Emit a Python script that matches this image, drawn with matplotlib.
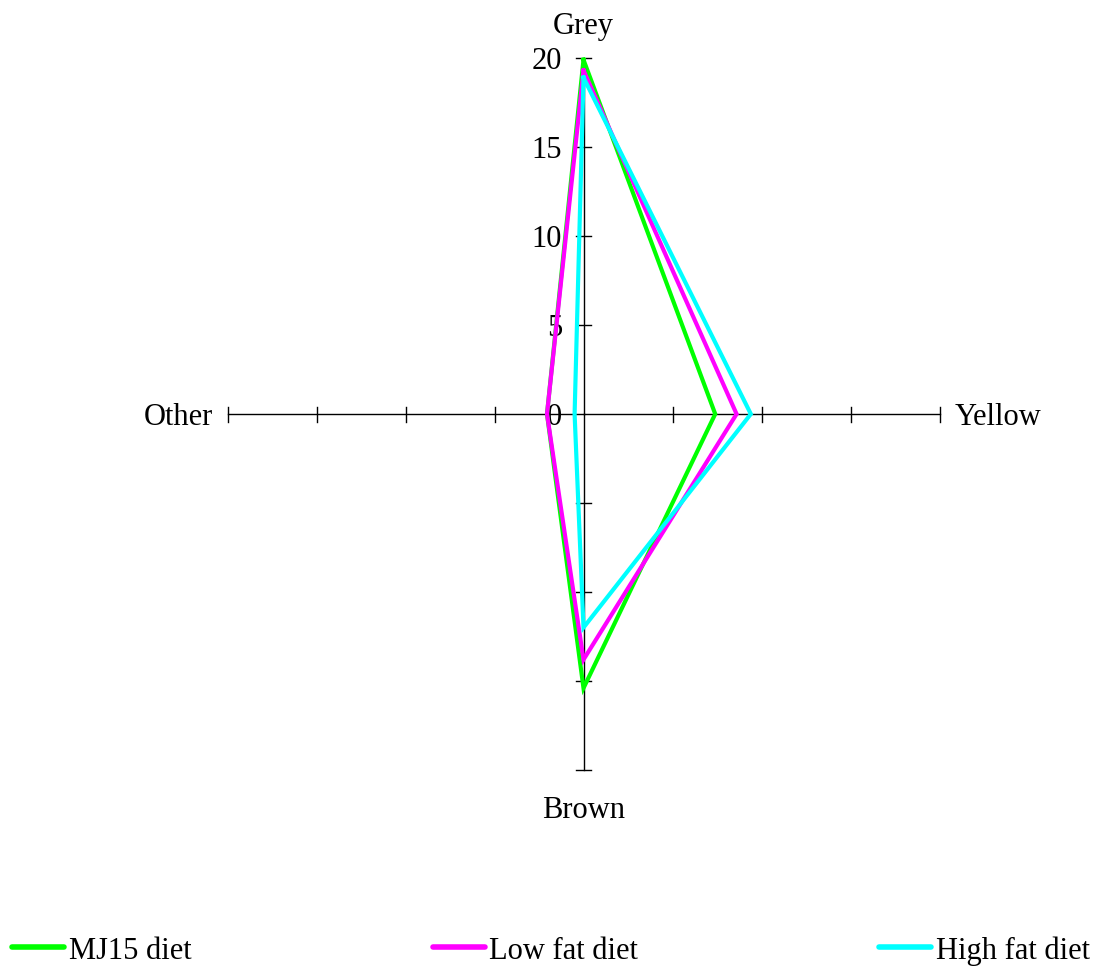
import matplotlib
matplotlib.use("Agg")
import matplotlib.pyplot as plt
from matplotlib.lines import Line2D

plt.rcParams['font.family'] = ['Liberation Serif', 'DejaVu Serif']

# Radar spokes, clockwise from the top
categories = ["Grey", "Yellow", "Brown", "Other"]
series_names = ["MJ15 diet", "Low fat diet", "High fat diet"]
mj15 = [19.9, 7.4, 15.4, 2.05]
low_fat = [19.3, 8.6, 13.8, 2.05]
high_fat = [18.9, 9.4, 12.0, 0.5]
colors = ["#00FF00", "#FF00FF", "#00FFFF"]
ticks = [0, 5, 10, 15, 20]
r_max = 20

# unit direction of each spoke
directions = [(0, 1), (1, 0), (0, -1), (-1, 0)]

FS = 22
W, H, DPI = 1099, 970, 100
fig = plt.figure(figsize=(W / DPI, H / DPI), dpi=DPI)
ax = fig.add_axes([0, 0, 1, 1])
scale = 17.8  # pixels per unit
cx, cy = 583.5, 415
ax.set_xlim(-cx / scale, (W - cx) / scale)
ax.set_ylim(-(H - cy) / scale, cy / scale)
ax.axis("off")

# spokes and tick marks
half = 7.5 / scale
for dx, dy in directions:
    ax.plot([0, dx * r_max], [0, dy * r_max], color="black", lw=1, zorder=1)
    for t in ticks[1:]:
        px, py = dx * t, dy * t
        if dx == 0:
            ax.plot([px - half, px + half], [py, py], color="black", lw=1, zorder=1)
        else:
            ax.plot([px, px], [py - half, py + half], color="black", lw=1, zorder=1)

# value labels along the Grey spoke
dy_txt = -0.15
for t in ticks:
    ax.text(-1.2, t + dy_txt, str(t), ha="right", va="center", fontsize=FS)

# spoke labels
ax.text(0, 21.85, categories[0], ha="center", va="center", fontsize=FS)
ax.text(20.85, dy_txt, categories[1], ha="left", va="center", fontsize=FS)
ax.text(0, -22.2, categories[2], ha="center", va="center", fontsize=FS)
ax.text(-20.8, dy_txt, categories[3], ha="right", va="center", fontsize=FS)

# data polygons
handles = []
for name, vals, col in zip(series_names, [mj15, low_fat, high_fat], colors):
    xs = [d[0] * v for d, v in zip(directions, vals)]
    ys = [d[1] * v for d, v in zip(directions, vals)]
    xs.append(xs[0])
    ys.append(ys[0])
    ax.plot(xs, ys, color=col, lw=3, zorder=3, solid_joinstyle="miter")
    handles.append(Line2D([0], [0], color=col, lw=4, solid_capstyle="round"))

fig.legend(handles, series_names, loc="center left", ncol=3, mode="expand",
           bbox_to_anchor=(12 / W, 1 - 951 / H, 1078 / W, 0),
           frameon=False, fontsize=FS, handlelength=1.7, handletextpad=0.15,
           borderpad=0, borderaxespad=0)

fig.savefig("out.png", dpi=DPI)
